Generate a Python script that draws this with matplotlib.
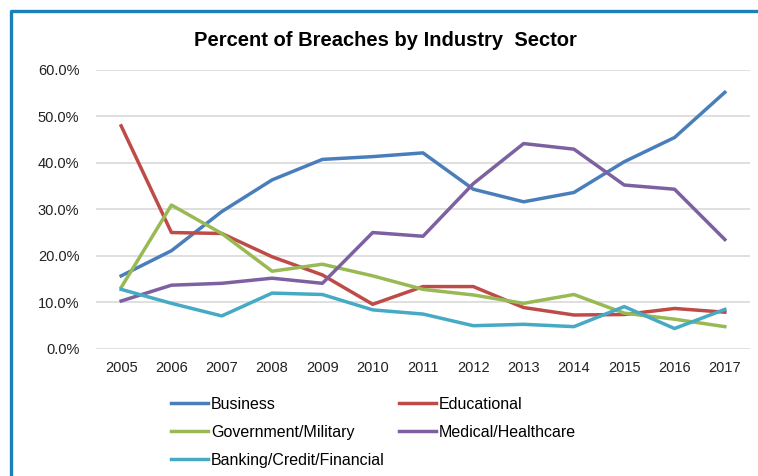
import matplotlib.pyplot as plt
from matplotlib.lines import Line2D
from matplotlib.ticker import PercentFormatter

plt.rcParams['font.family'] = ['Liberation Sans', 'DejaVu Sans']

years = ['2005', '2006', '2007', '2008', '2009', '2010', '2011',
         '2012', '2013', '2014', '2015', '2016', '2017']

business = [15.7, 21.1, 29.5, 36.3, 40.7, 41.3, 42.1, 34.3, 31.6, 33.6, 40.2, 45.4, 55.1]
educational = [47.9, 25.0, 24.8, 19.8, 15.9, 9.6, 13.4, 13.4, 8.9, 7.3, 7.4, 8.7, 7.9]
government = [13.2, 30.9, 24.8, 16.7, 18.2, 15.7, 12.8, 11.6, 9.8, 11.7, 7.7, 6.4, 4.8]
medical = [10.3, 13.7, 14.1, 15.2, 14.1, 25.0, 24.2, 35.5, 44.1, 42.9, 35.2, 34.3, 23.5]
banking = [12.8, 9.8, 7.1, 12.0, 11.7, 8.4, 7.5, 5.0, 5.3, 4.8, 9.1, 4.4, 8.5]

fig = plt.figure(figsize=(7.58, 4.76), dpi=100)
ax = fig.add_axes([96 / 758, 1 - 349 / 476, 654 / 758, 279.5 / 476])

x = range(len(years))
lw = 2.5
l1, = ax.plot(x, business, color='#4a7ebb', lw=lw, label='Business')
l2, = ax.plot(x, educational, color='#be4b48', lw=lw, label='Educational')
l3, = ax.plot(x, government, color='#98b954', lw=lw, label='Government/Military')
l4, = ax.plot(x, medical, color='#7d60a0', lw=lw, label='Medical/Healthcare')
l5, = ax.plot(x, banking, color='#46aac5', lw=lw, label='Banking/Credit/Financial')

ax.set_xlim(-0.5, len(years) - 0.5)
ax.set_ylim(0, 60)
ax.set_yticks(range(0, 61, 10))
ax.yaxis.set_major_formatter(PercentFormatter(decimals=1))
ax.set_xticks(list(x))
ax.set_xticklabels(years)
ax.tick_params(length=0, labelsize=10.5, colors='#222222')
ax.tick_params(axis='y', pad=12)
ax.tick_params(axis='x', pad=9)
ax.grid(axis='y', color='#d9d9d9', lw=1.2)
ax.set_axisbelow(True)
for s in ax.spines.values():
    s.set_visible(False)

fig.text(385 / 758, 1 - 40 / 476, 'Percent of Breaches by Industry  Sector',
         ha='center', va='center', fontsize=14.5, fontweight='bold')

# Excel fills legend row-wise; reorder for matplotlib's column-wise fill
handles = [l1, l3, l5, l2, l4]
fig.legend(handles, [h.get_label() for h in handles], ncol=2,
           loc='upper left', bbox_to_anchor=(163 / 758, 1 - 389 / 476),
           frameon=False, fontsize=11.5, handlelength=2.3, handletextpad=0.2,
           columnspacing=0.9, labelspacing=0.8, borderpad=0)

# blue frame on the left and top
fig.add_artist(Line2D([11 / 758, 11 / 758, 1], [0, 1 - 11 / 476, 1 - 11 / 476],
                      transform=fig.transFigure, color='#1a80b8', lw=2.4))

fig.savefig('out.png', dpi=100, facecolor='white')
